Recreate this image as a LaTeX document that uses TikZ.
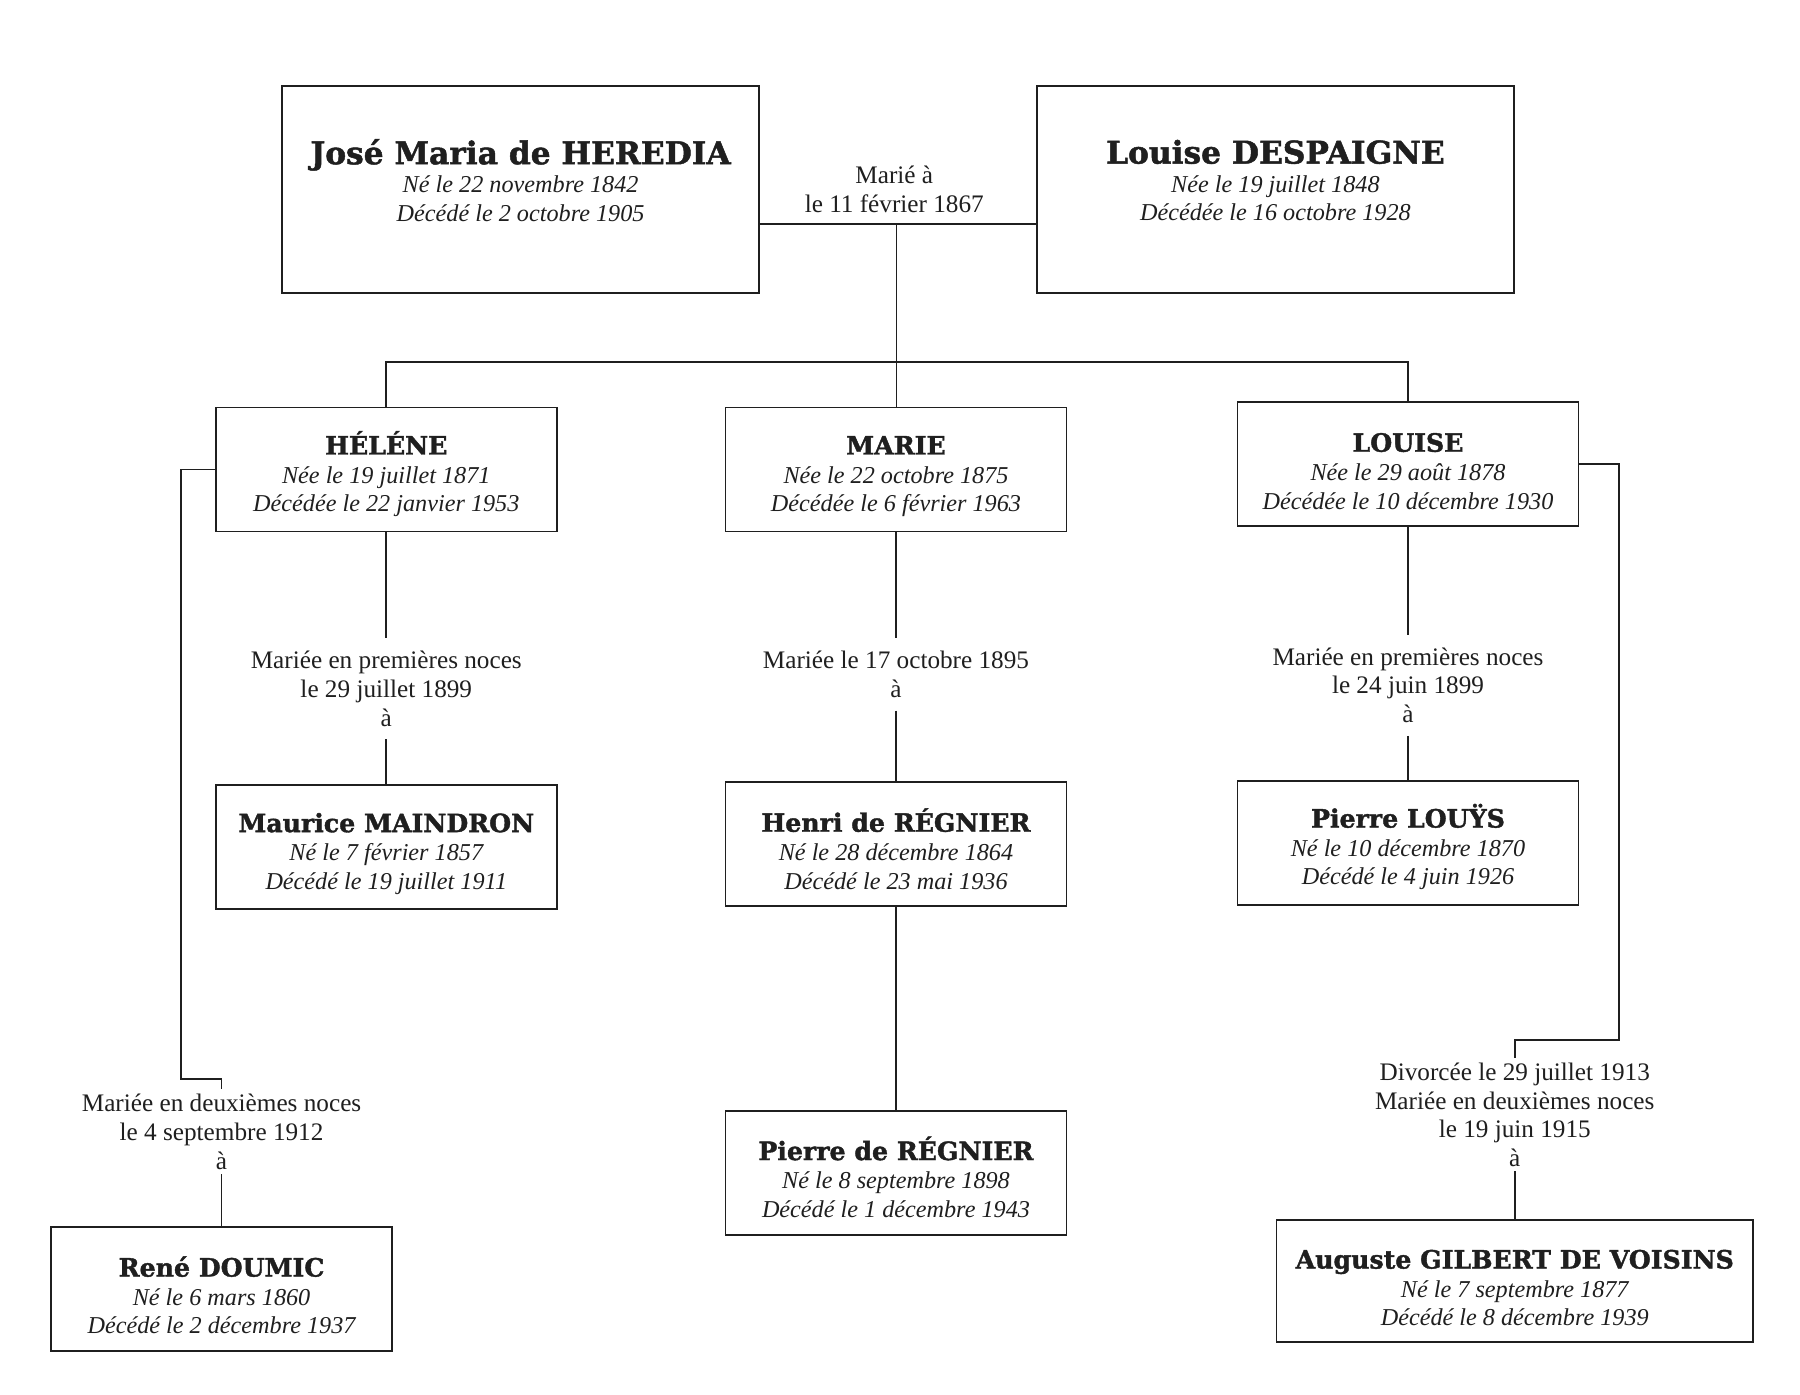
\documentclass[tikz,border=0pt]{standalone}
\usepackage{fontspec}
\setmainfont{Liberation Serif}
\newfontfamily\namefont{DejaVu Serif}[BoldFeatures={FakeBold=1.5}]
\usetikzlibrary{positioning}

\newcommand{\topname}[1]{{\namefont\bfseries\upshape\fontsize{15.5}{17}\selectfont #1}}
\newcommand{\rowname}[1]{{\namefont\bfseries\upshape\fontsize{12.5}{15}\selectfont\rule{0pt}{16pt}#1}}
\newcommand{\lastline}{\rule[-9pt]{0pt}{0pt}}

\begin{document}
\begin{tikzpicture}[line width=0.9pt,color=black!88,on grid,
    person/.style={draw,align=center,minimum width=5.94cm,minimum height=2.16cm,
      inner sep=2pt,font=\fontsize{12}{14.2}\selectfont\itshape},
    couple/.style={person,minimum width=8.3cm,minimum height=3.6cm},
    wedding/.style={align=center,inner sep=6pt,font=\fontsize{12.5}{14.2}\selectfont},
    remarriage/.style={wedding,inner ysep=2pt}]
    \fill[white] (0,0) rectangle (31.36,-24.3);
    \useasboundingbox (0,0) rectangle (31.36,-24.3);
            % parents
            \node[couple] (heredia) at (9.07,-3.30) {\topname{José Maria de HEREDIA}\\Né le 22 novembre 1842\\Décédé le 2 octobre 1905\lastline};
            \node[couple] (despaigne) [right=13.15 of heredia] {\topname{Louise DESPAIGNE}\\Née le 19 juillet 1848\\Décédée le 16 octobre 1928\lastline};
            \coordinate (wed) at (15.62,-3.90);
            \coordinate (bar) at (15.62,-6.30);
            \node[wedding] (w_heredia) at (15.58,-3.30) {Marié à\\le 11 février 1867};
            % daughters
            \node[person] (helene) at (6.73,-8.18) {\rowname{HÉLÉNE}\\Née le 19 juillet 1871\\Décédée le 22 janvier 1953};
            \node[person] (marie) [right=8.88 of helene] {\rowname{MARIE}\\Née le 22 octobre 1875\\Décédée le 6 février 1963};
            \node[person] (louise) at (24.53,-8.09) {\rowname{LOUISE}\\Née le 29 août 1878\\Décédée le 10 décembre 1930};
            % first marriages
            \node[wedding] (w_helene) [below=3.82 of helene] {Mariée en premières noces\\le 29 juillet 1899\\à};
            \node[wedding] (w_marie) [below=3.57 of marie] {Mariée le 17 octobre 1895\\à};
            \node[wedding] (w_louise) [below=3.85 of louise] {Mariée en premières noces\\le 24 juin 1899\\à};
            \node[person] (maindron) [below=6.58 of helene] {\rowname{Maurice MAINDRON}\\Né le 7 février 1857\\Décédé le 19 juillet 1911};
            \node[person] (henri) [below=6.53 of marie] {\rowname{Henri de RÉGNIER}\\Né le 28 décembre 1864\\Décédé le 23 mai 1936};
            \node[person] (louys) [below=6.59 of louise] {\rowname{Pierre LOUŸS}\\Né le 10 décembre 1870\\Décédé le 4 juin 1926};
            \node[person] (pierre) [below=5.72 of henri] {\rowname{Pierre de RÉGNIER}\\Né le 8 septembre 1898\\Décédé le 1 décembre 1943};
            % second marriages
            \node[person] (doumic) at (3.86,-22.46) {\rowname{René DOUMIC}\\Né le 6 mars 1860\\Décédé le 2 décembre 1937};
            \node[person,minimum width=8.3cm,minimum height=2.12cm] (voisins) at (26.39,-22.32) {\rowname{Auguste GILBERT DE VOISINS}\\Né le 7 septembre 1877\\Décédé le 8 décembre 1939};
            \node[remarriage] (w_doumic) [above=2.74 of doumic] {Mariée en deuxièmes noces\\le 4 septembre 1912\\à};
            \node[remarriage] (w_voisins) [above=2.90 of voisins] {Divorcée le 29 juillet 1913\\Mariée en deuxièmes noces\\le 19 juin 1915\\à};
            \coordinate (hbend) at (3.16,-18.80);
            \coordinate (lbend) at (28.20,-18.12);
            % connectors
            \draw (heredia.east |- wed) -- (despaigne.west |- wed);
            \draw (wed) -- (bar);
            \draw (helene.north) |- (bar) -| (louise.north);
            \draw (bar) -- (bar |- marie.north);
            \draw (helene.south) -- (w_helene.north);
            \draw (w_helene.south) -- (w_helene.south |- maindron.north);
            \draw (marie.south) -- (w_marie.north);
            \draw (w_marie.south) -- (w_marie.south |- henri.north);
            \draw (louise.south) -- (w_louise.north);
            \draw (w_louise.south) -- (w_louise.south |- louys.north);
            \draw (henri.south) -- (henri.south |- pierre.north);
            \draw (helene.west) -| (hbend) -| (w_doumic.north);
            \draw (w_doumic.south) -- (w_doumic.south |- doumic.north);
            \draw (louise.east) -| (lbend) -| (w_voisins.north);
            \draw (w_voisins.south) -- (w_voisins.south |- voisins.north);
\end{tikzpicture}
\end{document}
